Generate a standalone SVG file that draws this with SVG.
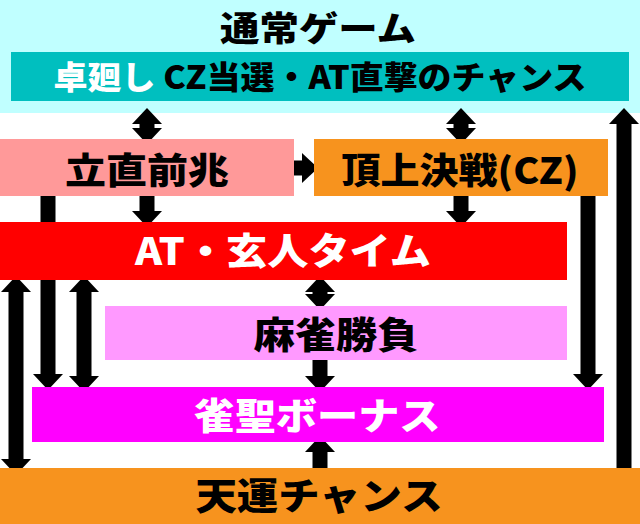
<svg xmlns="http://www.w3.org/2000/svg" width="640" height="524" viewBox="0 0 640 524">
<style>
text{font-family:"Noto Sans CJK JP","Noto Sans",sans-serif;font-weight:900;text-anchor:middle}
.a{stroke:#000;stroke-width:15;fill:none}
</style>
<defs>
<marker id="h" viewBox="0 0 16 30" markerWidth="16" markerHeight="30" refX="0" refY="15" orient="auto-start-reverse" markerUnits="userSpaceOnUse"><path d="M0,0L16,15L0,30z" fill="#000"/></marker>
</defs>
<rect x="0" y="0" width="640" height="113" fill="#c0ffff"/>
<g id="connectors">
<line class="a" x1="147" y1="124" x2="147" y2="128" marker-start="url(#h)" marker-end="url(#h)"/>
<line class="a" x1="461" y1="124" x2="461" y2="128" marker-start="url(#h)" marker-end="url(#h)"/>
<line class="a" x1="288" y1="168" x2="302" y2="168" marker-end="url(#h)"/>
<line class="a" x1="147" y1="192" x2="147" y2="211" marker-end="url(#h)"/>
<line class="a" x1="461" y1="192" x2="461" y2="211" marker-end="url(#h)"/>
<line class="a" x1="48" y1="192" x2="48" y2="374" marker-end="url(#h)"/>
<line class="a" x1="588" y1="192" x2="588" y2="374" marker-end="url(#h)"/>
<line class="a" x1="624" y1="472" x2="624" y2="124" marker-end="url(#h)"/>
<line class="a" x1="84" y1="292" x2="84" y2="376" marker-start="url(#h)" marker-end="url(#h)"/>
<line class="a" x1="16" y1="292" x2="16" y2="459" marker-start="url(#h)" marker-end="url(#h)"/>
<line class="a" x1="320" y1="292" x2="320" y2="294" marker-start="url(#h)" marker-end="url(#h)"/>
<line class="a" x1="320" y1="356" x2="320" y2="376" marker-end="url(#h)"/>
<line class="a" x1="320" y1="470" x2="320" y2="452" marker-end="url(#h)"/>
</g>
<g id="normal">
<text x="318" y="41" font-size="34" textLength="196" lengthAdjust="spacingAndGlyphs">通常ゲーム</text>
<rect x="11" y="52" width="618" height="49" fill="#00bfbf"/>
<text x="320" y="89" font-size="32" textLength="533" lengthAdjust="spacingAndGlyphs"><tspan fill="#fff">卓廻し</tspan> <tspan fill="#000">CZ当選・AT直撃のチャンス</tspan></text>
</g>
<g id="riichi">
<rect x="0" y="139" width="294" height="57" fill="#ff9999"/>
<text x="147" y="184" font-size="36" textLength="164" lengthAdjust="spacingAndGlyphs">立直前兆</text>
</g>
<g id="chojo">
<rect x="314" y="139" width="294" height="57" fill="#f7931e"/>
<text x="460" y="184" font-size="36" textLength="237" lengthAdjust="spacingAndGlyphs">頂上決戦(CZ)</text>
</g>
<g id="at">
<rect x="0" y="222" width="567" height="58" fill="#ff0000"/>
<text x="283" y="265" font-size="37" fill="#fff" textLength="296" lengthAdjust="spacingAndGlyphs">AT・玄人タイム</text>
</g>
<g id="mahjong">
<rect x="105" y="306" width="462" height="54" fill="#ff99ff"/>
<text x="336" y="349" font-size="37" textLength="165" lengthAdjust="spacingAndGlyphs">麻雀勝負</text>
</g>
<g id="bonus">
<rect x="32" y="387" width="572" height="55" fill="#ff00ff"/>
<text x="317" y="430" font-size="37" fill="#fff" textLength="247" lengthAdjust="spacingAndGlyphs">雀聖ボーナス</text>
</g>
<g id="tenun">
<rect x="0" y="468" width="640" height="56" fill="#f7931e"/>
<text x="319" y="510" font-size="37" textLength="247" lengthAdjust="spacingAndGlyphs">天運チャンス</text>
</g>
</svg>
